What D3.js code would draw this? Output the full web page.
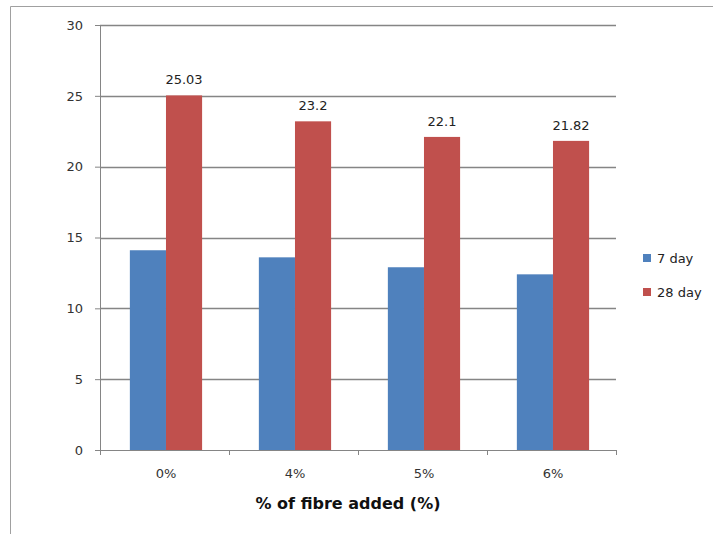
<!DOCTYPE html>
<html>
<head>
<meta charset="utf-8">
<script src="https://cdn.jsdelivr.net/npm/d3@7"></script>
<style>
html,body{margin:0;padding:0;background:#fff;}
svg{display:block;}
text{font-family:"DejaVu Sans",Verdana,sans-serif;}
</style>
</head>
<body>
<svg id="chart" width="713" height="534"></svg>
<script>
const categories = ["0%", "4%", "5%", "6%"];
const seriesNames = ["7 day", "28 day"];
const day7 = [14.1, 13.6, 12.9, 12.4];
const day28 = [25.03, 23.2, 22.1, 21.82];
const labels28 = ["25.03", "23.2", "22.1", "21.82"];
const yTicks = [0, 5, 10, 15, 20, 25, 30];
const colors = ["#4F81BD", "#C0504D"];
const xTitle = "% of fibre added (%)";

const svg = d3.select("#chart");
const m = {left: 100, right: 616, top: 25, bottom: 450};

// outer frame (top and left visible)
svg.append("line").attr("x1", 10.5).attr("x2", 713).attr("y1", 6.5).attr("y2", 6.5)
  .attr("stroke", "#a0a0a0").attr("stroke-width", 1);
svg.append("line").attr("x1", 10.5).attr("x2", 10.5).attr("y1", 6.5).attr("y2", 534)
  .attr("stroke", "#a0a0a0").attr("stroke-width", 1);

const x = d3.scaleBand().domain(categories).range([m.left, m.right])
  .paddingInner(0.44).paddingOuter(0.22).align(0.526);
const xs = d3.scaleBand().domain(seriesNames).range([0, x.bandwidth()]);
const y = d3.scaleLinear().domain([0, 30]).range([m.bottom, m.top]);

// gridlines
svg.append("g").selectAll("line").data(yTicks.filter(d => d > 0)).join("line")
  .attr("x1", m.left).attr("x2", m.right)
  .attr("y1", d => Math.round(y(d)) + 0.5).attr("y2", d => Math.round(y(d)) + 0.5)
  .attr("stroke", "#858585").attr("stroke-width", 1.5);

// bars
const data = categories.map((c, i) => ({c, vals: [day7[i], day28[i]], lab: labels28[i]}));
const groups = svg.append("g").selectAll("g").data(data).join("g")
  .attr("transform", d => `translate(${x(d.c)},0)`);
groups.selectAll("rect").data(d => d.vals.map((v, j) => ({v, j}))).join("rect")
  .attr("x", d => xs(seriesNames[d.j]))
  .attr("width", xs.bandwidth())
  .attr("y", d => y(d.v))
  .attr("height", d => y(0) - y(d.v))
  .attr("fill", d => colors[d.j]);

// data labels for 28 day
groups.append("text")
  .attr("x", xs(seriesNames[1]) + xs.bandwidth() / 2)
  .attr("y", d => y(d.vals[1]) - 11)
  .attr("text-anchor", "middle")
  .attr("font-size", 13)
  .attr("fill", "#222")
  .text(d => d.lab);

// y axis
const yAxis = svg.append("g").attr("transform", `translate(${m.left},0)`)
  .call(d3.axisLeft(y).tickValues(yTicks).tickSize(5).tickPadding(12).tickFormat(d3.format("d")));
yAxis.select(".domain").attr("stroke", "#858585");
yAxis.selectAll(".tick line").attr("stroke", "#858585");
yAxis.selectAll("text").attr("font-size", 13).attr("fill", "#333").attr("font-family", "DejaVu Sans");

// x axis
const xAxis = svg.append("g").attr("transform", `translate(0,${m.bottom})`)
  .call(d3.axisBottom(x).tickSize(0).tickPadding(19));
xAxis.select(".domain").attr("stroke", "#858585");
xAxis.selectAll("text").attr("font-size", 13).attr("fill", "#333").attr("font-family", "DejaVu Sans");
const boundaries = d3.range(categories.length + 1).map(i => m.left + i * (m.right - m.left) / categories.length);
xAxis.selectAll(".bnd").data(boundaries).join("line").attr("class", "bnd")
  .attr("x1", d => Math.round(d) + 0.5).attr("x2", d => Math.round(d) + 0.5)
  .attr("y1", 0).attr("y2", 5).attr("stroke", "#858585");

// x title
svg.append("text").attr("x", 348).attr("y", 509).attr("text-anchor", "middle")
  .attr("font-size", 16).attr("font-weight", "bold").attr("fill", "#111").text(xTitle);

// legend
const leg = svg.append("g").selectAll("g").data(seriesNames).join("g")
  .attr("transform", (d, i) => `translate(643,${254 + i * 34})`);
leg.append("rect").attr("width", 8).attr("height", 8).attr("fill", (d, i) => colors[i]);
leg.append("text").attr("x", 14).attr("y", 4).attr("dy", "0.35em")
  .attr("font-size", 13).attr("fill", "#222").text(d => d);
</script>
</body>
</html>
